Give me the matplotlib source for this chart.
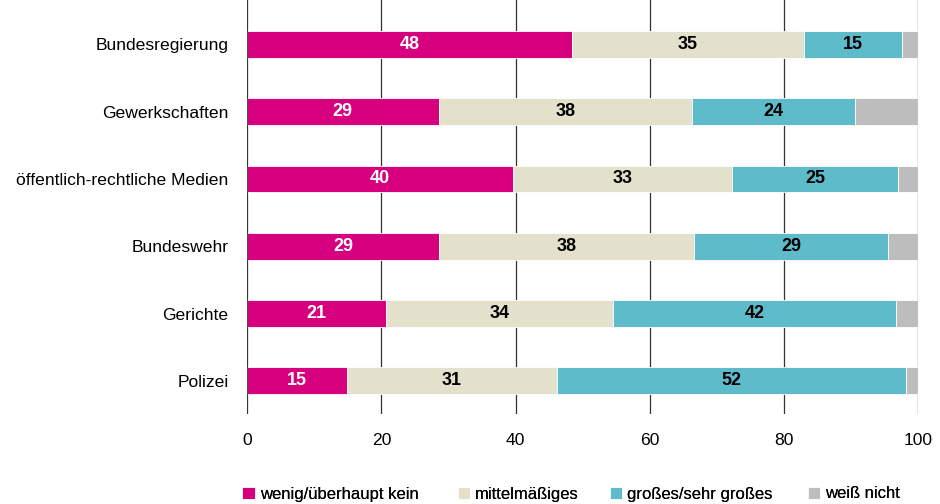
import matplotlib.pyplot as plt
import numpy as np

categories = ['Bundesregierung', 'Gewerkschaften', 'öffentlich-rechtliche Medien',
              'Bundeswehr', 'Gerichte', 'Polizei']
wenig = [48.4, 28.5, 39.6, 28.6, 20.7, 14.8]
mittel = [34.5, 37.8, 32.7, 38.0, 33.8, 31.4]
gross = [14.7, 24.3, 24.6, 28.9, 42.1, 51.9]
weiss = [2.4, 9.4, 3.1, 4.5, 3.4, 1.9]
shown_wenig = [48, 29, 40, 29, 21, 15]
shown_mittel = [35, 38, 33, 38, 34, 31]
shown_gross = [15, 24, 25, 29, 42, 52]
series_names = ['wenig/überhaupt kein', 'mittelmäßiges', 'großes/sehr großes', 'weiß nicht']

plt.rcParams['font.family'] = ['Liberation Sans', 'DejaVu Sans']

fig = plt.figure(figsize=(9.4, 5.04), dpi=100)
ax = fig.add_axes([0.263, 0.179, 0.714, 0.821])

colors = ['#d6007e', '#e3e0cc', '#5ebbca', '#bdbdbd']
y = np.arange(len(categories))
left = np.zeros(len(categories))
series = [wenig, mittel, gross, weiss]
shown = [shown_wenig, shown_mittel, shown_gross, None]
txt_colors = ['white', 'black', 'black', None]

handles = []
for vals, col, name, lab, tc in zip(series, colors, series_names, shown, txt_colors):
    b = ax.barh(y, vals, left=left, height=0.4, color=col, edgecolor='white',
                linewidth=0.6, label=name, zorder=3)
    handles.append(b)
    if lab is not None:
        for i in range(len(categories)):
            ax.text(left[i] + vals[i] / 2, y[i], str(lab[i]), ha='center', va='center',
                    color=tc, fontsize=13, fontweight='bold', zorder=4)
    left = left + np.array(vals)

ax.set_xlim(0, 100)
ax.set_ylim(5.49, -0.66)
ax.set_yticks(y)
ax.set_yticklabels(categories, fontsize=12.6)
ax.set_xticks([0, 20, 40, 60, 80, 100])
ax.tick_params(axis='both', length=0, labelsize=12.6)
ax.tick_params(axis='x', pad=14)
ax.tick_params(axis='y', pad=13.5)
for s in ax.spines.values():
    s.set_visible(False)
ax.grid(axis='x', color='#333333', linewidth=0.9, zorder=0)
ax.axvline(0, color='#333333', linewidth=1.2, zorder=5)

# legend entries placed one by one, like the original
legend_x = [240, 455, 607, 805]
for h, name, lx in zip(handles, series_names, legend_x):
    lg = fig.legend([h], [name], loc='lower left', bbox_to_anchor=(lx / 940, 0.0),
                    frameon=False, fontsize=12, handlelength=0.75, handleheight=0.75,
                    handletextpad=0.3, borderaxespad=0, borderpad=0.15)
    fig.add_artist(lg)

plt.savefig('out.png', dpi=100)
plt.close()
